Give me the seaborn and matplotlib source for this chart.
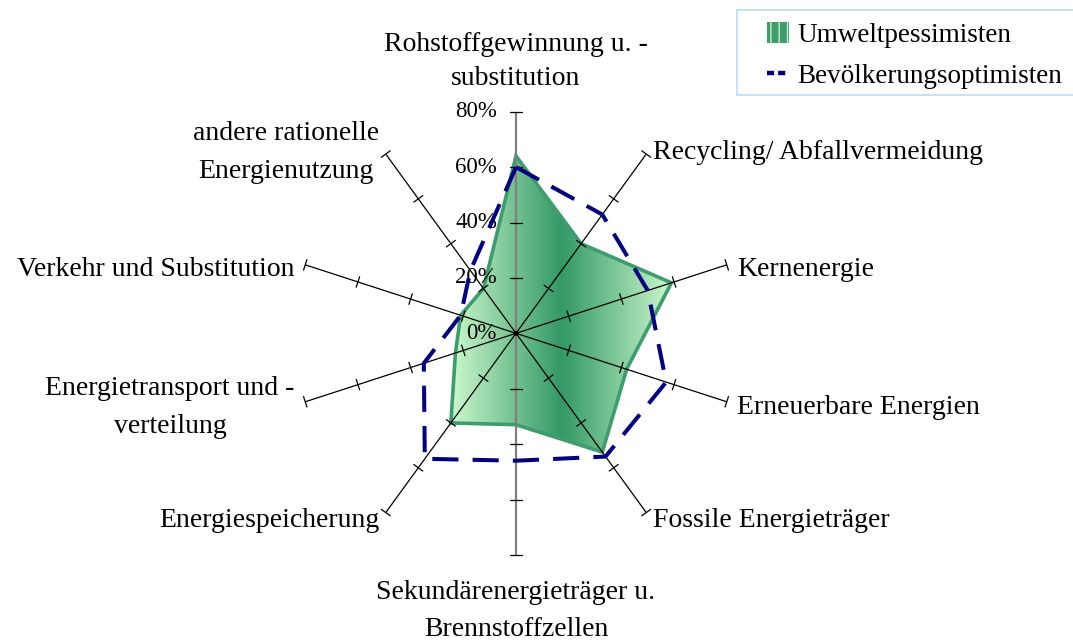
import numpy as np
import matplotlib
matplotlib.use("Agg")
import matplotlib.pyplot as plt
import seaborn as sns
from matplotlib.patches import Polygon, Patch, Rectangle
from matplotlib.lines import Line2D
from matplotlib.colors import LinearSegmentedColormap

# ---------------- data ----------------
categories = [
    "Rohstoffgewinnung u. -\nsubstitution",
    "Recycling/ Abfallvermeidung",
    "Kernenergie",
    "Erneuerbare Energien",
    "Fossile Energieträger",
    "Sekundärenergieträger u.\nBrennstoffzellen",
    "Energiespeicherung",
    "Energietransport und -\nverteilung",
    "Verkehr und Substitution",
    "andere rationelle\nEnergienutzung",
]
umweltpessimisten = [64, 40, 59, 42, 53, 33, 40, 23, 21, 20]
bevoelkerungsoptimisten = [60, 53, 50, 57, 55, 46, 56, 35, 21, 28]
series_names = ["Umweltpessimisten", "Bevölkerungsoptimisten"]
tick_values = [0, 20, 40, 60, 80]
tick_labels = ["0%", "20%", "40%", "60%", "80%"]

# ---------------- style ----------------
sns.set_theme(style="white")
plt.rcParams["font.family"] = ["Liberation Serif", "DejaVu Serif"]

W, H, DPI = 1073, 642, 100
fig = plt.figure(figsize=(W / DPI, H / DPI), dpi=DPI)
ax = fig.add_axes([0, 0, 1, 1])
ax.set_axis_off()

px_per_unit = 2.77
cx, cy = 516, 333.3
xlim = (-cx / px_per_unit, (W - cx) / px_per_unit)
ylim = (-(H - cy) / px_per_unit, cy / px_per_unit)

n = len(categories)
theta = np.deg2rad(np.arange(n) * 360.0 / n)
sin_t, cos_t = np.sin(theta), np.cos(theta)
rmax = max(tick_values)


def to_xy(vals):
    v = np.asarray(vals, dtype=float)
    return v * sin_t, v * cos_t


# ---------------- filled series (gradient) ----------------
ux, uy = to_xy(umweltpessimisten)
poly_xy = np.column_stack([ux, uy])
t = np.linspace(0, 1, 512)
grad = 1 - np.abs(2 * t - 1)
cmap = LinearSegmentedColormap.from_list("g", ["#ccf8cc", "#339966"])
im = ax.imshow(grad[None, :], cmap=cmap, extent=[ux.min(), ux.max(), uy.min(), uy.max()],
               aspect="auto", interpolation="bilinear", zorder=1)
clip = Polygon(poly_xy, closed=True, facecolor="none", edgecolor="none", transform=ax.transData)
ax.add_patch(clip)
im.set_clip_path(clip)
ax.add_patch(Polygon(poly_xy, closed=True, facecolor="none", edgecolor="#3d9d6d",
                     lw=2.6, joinstyle="miter", zorder=2))

# ---------------- axes (spokes) ----------------
tick_half = 2.0
for i in range(n):
    vertical = abs(sin_t[i]) < 1e-6
    col = "#808080" if vertical else "black"
    lw = 1.6 if vertical else 0.9
    ax.plot([0, rmax * sin_t[i]], [0, rmax * cos_t[i]], color=col, lw=lw, zorder=3,
            solid_capstyle="butt")
    for tv in tick_values[1:]:
        px, py = tv * sin_t[i], tv * cos_t[i]
        h = tick_half * (1.1 if vertical else 1.0)
        ax.plot([px - h * cos_t[i], px + h * cos_t[i]],
                [py + h * sin_t[i], py - h * sin_t[i]], color="black", lw=0.9, zorder=3)
ax.plot([0], [0], marker="o", ms=2.5, color="black", zorder=3)

# value tick labels
for tv, tl in zip(tick_values, tick_labels):
    ax.text(-6.9, tv, tl, ha="right", va="center", fontsize=16.5, color="black", zorder=4)

# ---------------- dashed series ----------------
bx, by = to_xy(bevoelkerungsoptimisten)
sns.lineplot(x=np.append(bx, bx[0]), y=np.append(by, by[0]), sort=False, estimator=None,
             color="#000080", lw=2.9, linestyle=(0, (6.5, 3.5)), ax=ax, zorder=5)

# ---------------- category labels ----------------
for i, lab in enumerate(categories):
    s, c = sin_t[i], cos_t[i]
    ls = 1.7
    if abs(s) < 0.1:
        ha = "center"
        if c > 0:
            r, va, dy, ls = 87.5, "bottom", 0.0, 1.45
        else:
            r, va, dy, ls = 89.2, "top", 0.0, 1.6
    else:
        r = 84
        ha = "left" if s > 0 else "right"
        va = "center"
        if c > 0:
            dy = -2.8
        elif c > -0.5:
            dy = -0.8
        else:
            dy = 0.3
    ax.text(r * s, r * c + dy, lab, ha=ha, va=va, multialignment="center",
            fontsize=20, color="black", linespacing=ls, zorder=4)

ax.set_xlim(*xlim)
ax.set_ylim(*ylim)
ax.set_aspect("equal", adjustable="box")

# ---------------- legend ----------------
fig.patches.append(Rectangle((737 / W, 1 - 95 / H), (W + 10 - 737) / W, 85 / H,
                             transform=fig.transFigure, facecolor="white",
                             edgecolor="#b7dbff", lw=1.2, zorder=0))
handles = [
    Patch(facecolor="#3d9d6d", edgecolor="#c8f0c8", hatch="||", lw=0),
    Line2D([0], [0], color="#000080", lw=3.2, linestyle=(0, (1.6, 0.9))),
]
leg = fig.legend(handles, series_names, loc="upper left",
                 bbox_to_anchor=(767 / W, 1 - 22 / H), fontsize=19.5,
                 frameon=False, borderaxespad=0, borderpad=0, handlelength=0.82,
                 handleheight=0.82, handletextpad=0.3, labelspacing=0.55,
                 labelcolor="black")

fig.savefig("out.png", dpi=DPI)
